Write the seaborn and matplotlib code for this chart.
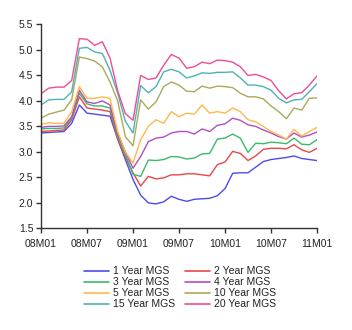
import numpy as np
import pandas as pd
import matplotlib
matplotlib.use("Agg")
import matplotlib.pyplot as plt
import seaborn as sns

tick_labels = ["08M01", "08M07", "09M01", "09M07", "10M01", "10M07", "11M01"]
months = list(range(37))

y1 = [3.37, 3.38, 3.39, 3.40, 3.56, 3.92, 3.76, 3.74, 3.72, 3.70, 3.25, 2.85, 2.46,
      2.15, 2.00, 1.98, 2.02, 2.13, 2.07, 2.03, 2.07, 2.08, 2.09, 2.14, 2.28, 2.58,
      2.59, 2.59, 2.70, 2.81, 2.85, 2.87, 2.89, 2.92, 2.87, 2.85, 2.83]
y2 = [3.40, 3.41, 3.42, 3.43, 3.63, 4.08, 3.86, 3.84, 3.82, 3.79, 3.25, 2.90, 2.59,
      2.33, 2.52, 2.47, 2.49, 2.55, 2.55, 2.57, 2.57, 2.55, 2.53, 2.75, 2.80, 3.01,
      2.97, 2.83, 2.92, 3.05, 3.07, 3.07, 3.06, 3.14, 3.04, 2.99, 3.07]
y3 = [3.45, 3.46, 3.46, 3.47, 3.66, 4.15, 3.94, 3.90, 3.90, 3.86, 3.30, 2.95, 2.56,
      2.52, 2.84, 2.83, 2.85, 2.91, 2.90, 2.86, 2.88, 2.96, 2.97, 3.25, 3.27, 3.35,
      3.27, 2.99, 3.17, 3.16, 3.19, 3.18, 3.16, 3.27, 3.15, 3.14, 3.24]
y4 = [3.48, 3.50, 3.50, 3.51, 3.69, 4.21, 3.98, 3.95, 4.00, 3.92, 3.35, 3.00, 2.68,
      2.91, 3.20, 3.27, 3.29, 3.37, 3.40, 3.40, 3.35, 3.45, 3.40, 3.52, 3.55, 3.66,
      3.62, 3.53, 3.50, 3.43, 3.37, 3.30, 3.25, 3.37, 3.29, 3.33, 3.39]
y5 = [3.54, 3.57, 3.56, 3.56, 3.79, 4.28, 4.05, 4.05, 4.08, 4.05, 3.40, 3.00, 2.78,
      3.24, 3.50, 3.63, 3.56, 3.79, 3.69, 3.76, 3.74, 3.92, 3.76, 3.79, 3.76, 3.86,
      3.79, 3.63, 3.59, 3.50, 3.40, 3.33, 3.25, 3.44, 3.31, 3.40, 3.48]
y10 = [3.66, 3.74, 3.78, 3.82, 4.02, 4.86, 4.83, 4.78, 4.67, 4.37, 4.00, 3.30, 3.12,
       4.02, 3.84, 3.98, 4.28, 4.37, 4.31, 4.19, 4.18, 4.29, 4.25, 4.29, 4.28, 4.26,
       4.15, 4.08, 4.08, 4.04, 3.90, 3.79, 3.65, 3.86, 3.82, 4.05, 4.06]
y15 = [3.92, 4.02, 4.03, 4.03, 4.18, 5.03, 5.05, 4.96, 4.93, 4.60, 4.15, 3.60, 3.37,
       4.30, 4.16, 4.28, 4.57, 4.62, 4.57, 4.45, 4.49, 4.55, 4.54, 4.56, 4.56, 4.57,
       4.45, 4.31, 4.31, 4.28, 4.21, 4.05, 3.96, 4.02, 4.03, 4.18, 4.34]
y20 = [4.14, 4.25, 4.27, 4.27, 4.40, 5.22, 5.21, 5.09, 5.16, 4.84, 4.20, 3.75, 3.62,
       4.50, 4.42, 4.45, 4.70, 4.91, 4.84, 4.64, 4.67, 4.76, 4.73, 4.80, 4.79, 4.76,
       4.67, 4.50, 4.52, 4.47, 4.40, 4.20, 4.04, 4.14, 4.16, 4.31, 4.49]

series_names = ["1 Year MGS", "2 Year MGS", "3 Year MGS", "4 Year MGS",
                "5 Year MGS", "10 Year MGS", "15 Year MGS", "20 Year MGS"]
series_values = [y1, y2, y3, y4, y5, y10, y15, y20]
colors = ["#4B4BF2", "#E8474A", "#3CB96A", "#B050C0",
          "#FFB74D", "#AAAA5A", "#4DB3B3", "#EE4C96"]

rows = []
for name, vals in zip(series_names, series_values):
    for m, v in zip(months, vals):
        rows.append({"month": m, "yield": v, "series": name})
df = pd.DataFrame(rows)

sns.set_style("ticks")
plt.rcParams["font.family"] = ["Liberation Sans", "DejaVu Sans"]

fig = plt.figure(figsize=(3.52, 3.30), dpi=100)
ax = fig.add_axes([0.1165, 0.308, 0.7841, 0.618])

sns.lineplot(data=df, x="month", y="yield", hue="series", hue_order=series_names,
             palette=colors, linewidth=1.0, ax=ax, legend=False)

ax.set_xlim(0, 36)
ax.set_ylim(1.5, 5.5)
ax.set_xticks([0, 6, 12, 18, 24, 30, 36])
ax.set_xticklabels(tick_labels)
ax.set_yticks([1.5, 2.0, 2.5, 3.0, 3.5, 4.0, 4.5, 5.0, 5.5])
ax.set_yticklabels(["1.5", "2.0", "2.5", "3.0", "3.5", "4.0", "4.5", "5.0", "5.5"])
ax.set_xlabel("")
ax.set_ylabel("")
for s in ["top", "right"]:
    ax.spines[s].set_visible(False)
for s in ["left", "bottom"]:
    ax.spines[s].set_color("#333333")
    ax.spines[s].set_linewidth(1.0)
ax.tick_params(axis="both", direction="out", length=3.5, width=1.0,
               color="#333333", labelsize=7.5, labelcolor="#222222", pad=2)
ax.tick_params(axis="x", pad=4)

# row-major ordering (two columns) as in the reference legend
order = [0, 2, 4, 6, 1, 3, 5, 7]
handles = [plt.Line2D([], [], color=colors[i], lw=1.2) for i in order]
labels = [series_names[i] for i in order]
fig.legend(handles, labels, ncol=2, frameon=False, loc="upper center",
           bbox_to_anchor=(180 / 352, 1 - 261 / 330), fontsize=7.5,
           handlelength=2.4, handletextpad=0.35, columnspacing=1.0,
           labelspacing=0.1, borderpad=0, labelcolor="#222222")

fig.savefig("out.png", dpi=100, facecolor="white")
